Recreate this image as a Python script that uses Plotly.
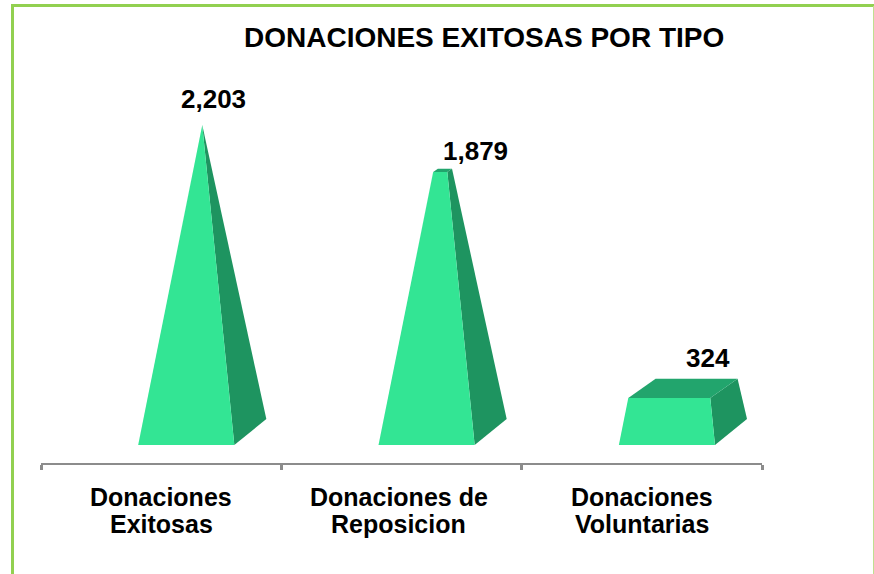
import plotly.graph_objects as go

categories = ["Donaciones Exitosas", "Donaciones de Reposicion", "Donaciones Voluntarias"]
label_lines = [["Donaciones", "Exitosas"], ["Donaciones de", "Reposicion"], ["Donaciones", "Voluntarias"]]
values = [2203, 1879, 324]
value_labels = ["2,203", "1,879", "324"]
title_text = "DONACIONES EXITOSAS POR TIPO"

FRONT, SIDE, TOP = "#33E594", "#1E9460", "#22A56D"
GREEN = "#92D050"
FONT = "Liberation Sans"
W, H = 874, 574
L, R, T, B = 41, 112, 60, 111
apex = max(values)
cx_off, half_w, dx, dy = 0.671, 0.2, 0.0666, 93
back_k = 0.74
label_dx = [11, 33, 25]
label_dy = [-26, -19, -29]
cat_dx = [0, -3, 0]

def px(x):
    return (x - L) / (W - L - R)
def py(y):
    return (H - B - y) / (H - T - B)

fig = go.Figure()
annotations = []
for i, v in enumerate(values):
    cx = i + cx_off
    s = 1 - v / apex
    fl = (cx - dx - half_w, -dy)
    fr = (cx - dx + half_w, -dy)
    br = (cx + dx + half_w, dy)
    tfl = (cx - dx * s - half_w * s, v - dy * s)
    tfr = (cx - dx * s + half_w * s, v - dy * s)
    tbr = (cx + dx * s + half_w * s, v + dy * s * back_k)
    tbl = (cx + dx * s - half_w * s, v + dy * s * back_k)
    for poly, col in [([fr, br, tbr, tfr], SIDE), ([tfl, tfr, tbr, tbl], TOP), ([fl, fr, tfr, tfl], FRONT)]:
        fig.add_trace(go.Scatter(x=[p[0] for p in poly] + [poly[0][0]], y=[p[1] for p in poly] + [poly[0][1]],
                                 mode="lines", fill="toself", fillcolor=col, line=dict(width=0, color=col),
                                 hoverinfo="skip", showlegend=False, name=categories[i]))
    annotations.append(dict(x=cx, y=v, xref="x", yref="y", text=f"<b>{value_labels[i]}</b>", showarrow=False,
                            xshift=label_dx[i], yshift=-label_dy[i], xanchor="center", yanchor="middle",
                            font=dict(family=FONT, size=26, color="#000")))
    for k, line in enumerate(label_lines[i]):
        annotations.append(dict(x=i + 0.5, y=0, xref="x", yref="paper", text=f"<b>{line}</b>", showarrow=False,
                                xshift=cat_dx[i], yshift=-34 - 27 * k, xanchor="center", yanchor="middle",
                                font=dict(family=FONT, size=25, color="#000")))

annotations.append(dict(x=px(484), y=py(37), xref="paper", yref="paper", text=f"<b>{title_text}</b>",
                        showarrow=False, xanchor="center", yanchor="middle", font=dict(family=FONT, size=28, color="#000")))

shapes = [
    dict(type="line", xref="paper", yref="paper", x0=px(11), x1=px(874), y0=py(5.5), y1=py(5.5), line=dict(color=GREEN, width=3)),
    dict(type="line", xref="paper", yref="paper", x0=px(12.5), x1=px(12.5), y0=py(4), y1=py(574), line=dict(color=GREEN, width=3)),
    dict(type="line", xref="paper", yref="paper", x0=px(873.5), x1=px(873.5), y0=py(6), y1=py(574), line=dict(color="#BFDF90", width=1)),
]

fig.update_layout(
    width=W, height=H, margin=dict(l=L, r=R, t=T, b=B), paper_bgcolor="white", plot_bgcolor="white",
    xaxis=dict(range=[0, 3], tickvals=[0, 1, 2, 3], ticktext=["", "", "", ""], ticks="outside", ticklen=5, tickwidth=3,
               tickcolor="#8C8C8C", showline=True, linecolor="#8C8C8C", linewidth=2, showgrid=False, zeroline=False),
    yaxis=dict(range=[-222, 2669], visible=False),
    annotations=annotations, shapes=shapes, showlegend=False,
)
fig.write_html("out.html", config={"displayModeBar": False},
               post_script="document.body.style.margin='0';document.documentElement.style.overflow='hidden';")
